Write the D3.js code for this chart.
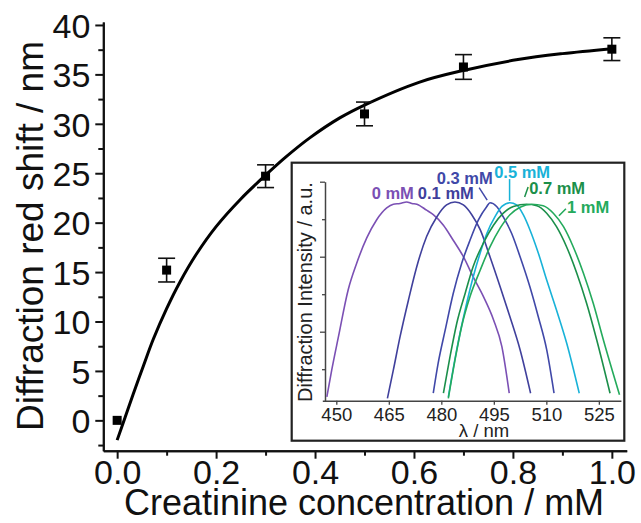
<!DOCTYPE html>
<html>
<head>
<meta charset="utf-8">
<script src="https://cdn.jsdelivr.net/npm/d3@7"></script>
<style>
  html, body { margin: 0; padding: 0; background: #fff; }
  svg { display: block; }
  text { font-family: "Liberation Sans", Arial, Helvetica, sans-serif; }
</style>
</head>
<body>
<svg id="chart" width="641" height="523"></svg>
<script>
// ---------- main chart data ----------
const concentration = [0, 0.1, 0.3, 0.5, 0.7, 1.0];
const redShift      = [0, 15.2, 24.7, 31.0, 35.75, 37.55];
const redShiftErr   = [0, 1.2, 1.15, 1.2, 1.25, 1.15];

const fitConc  = [0, 0.016, 0.032, 0.053, 0.073, 0.1, 0.127, 0.16, 0.2, 0.25, 0.3, 0.34, 0.39, 0.45, 0.5, 0.61, 0.7, 0.81, 0.9, 1.0];
const fitShift = [-2.0, 0.3, 2.6, 5.5, 8.2, 11.3, 14.0, 16.8, 19.6, 22.4, 24.8, 26.6, 28.6, 30.6, 31.9, 34.2, 35.4, 36.5, 37.1, 37.6];

const yTicks      = [0, 5, 10, 15, 20, 25, 30, 35, 40];
const yMinorTicks = [-2.5, 2.5, 7.5, 12.5, 17.5, 22.5, 27.5, 32.5, 37.5];
const xTicks      = [0, 0.2, 0.4, 0.6, 0.8, 1.0];
const xMinorTicks = [0.1, 0.3, 0.5, 0.7, 0.9];

// ---------- inset data ----------
const insetLabels = ["0 mM", "0.1 mM", "0.3 mM", "0.5 mM", "0.7 mM", "1 mM"];
const wl0 = [447.3, 448.7, 450.6, 453.4, 455.8, 458.7, 461.5, 464.4, 466.3, 468.2, 470.1, 471.6, 473.0, 475.8, 477.7, 480.6, 483.4, 486.3, 489.1, 492.0, 494.9, 497.3, 499.4];
const in0 = [0.13, 0.49, 0.93, 1.56, 1.91, 2.25, 2.49, 2.65, 2.70, 2.71, 2.73, 2.71, 2.70, 2.62, 2.56, 2.42, 2.22, 2.00, 1.73, 1.47, 1.16, 0.80, 0.18];
const wl1 = [464.6, 466.3, 468.2, 470.6, 473.0, 475.8, 478.7, 481.5, 483.9, 486.3, 488.7, 491.1, 493.9, 496.8, 499.6, 502.5, 505.5];
const in1 = [0.11, 0.49, 0.93, 1.42, 1.87, 2.27, 2.53, 2.69, 2.73, 2.69, 2.56, 2.36, 2.00, 1.60, 1.20, 0.76, 0.18];
const wl2 = [477.7, 479.1, 481.1, 483.4, 485.8, 488.2, 490.6, 493.0, 493.9, 495.8, 497.7, 500.1, 502.5, 505.3, 507.7, 510.1, 512.2];
const in2 = [0.18, 0.58, 1.02, 1.51, 1.91, 2.22, 2.49, 2.67, 2.72, 2.67, 2.53, 2.31, 2.00, 1.60, 1.20, 0.76, 0.18];
const wl3 = [482.0, 484.4, 486.8, 489.1, 491.1, 493.0, 495.3, 497.3, 499.6, 501.5, 503.4, 505.3, 507.7, 510.1, 512.9, 515.8, 519.4];
const in3 = [0.13, 0.76, 1.29, 1.73, 2.05, 2.31, 2.53, 2.67, 2.72, 2.69, 2.56, 2.36, 2.05, 1.69, 1.29, 0.85, 0.18];
const wl4 = [480.6, 482.5, 484.4, 486.8, 489.1, 492.0, 494.9, 497.7, 500.6, 504.4, 507.3, 510.1, 512.9, 515.8, 518.7, 521.5, 524.4, 528.2];
const in4 = [0.18, 0.67, 1.11, 1.51, 1.87, 2.18, 2.42, 2.58, 2.67, 2.70, 2.68, 2.58, 2.40, 2.13, 1.78, 1.38, 0.89, 0.18];
const wl5 = [482.0, 483.9, 485.8, 488.2, 491.1, 493.9, 496.8, 499.6, 502.5, 505.8, 509.1, 512.0, 514.9, 517.7, 520.6, 523.4, 526.3, 530.9];
const in5 = [0.11, 0.62, 1.07, 1.47, 1.82, 2.13, 2.38, 2.56, 2.66, 2.70, 2.68, 2.58, 2.40, 2.13, 1.78, 1.38, 0.89, 0.16];
const insetXTicks      = [450, 465, 480, 495, 510, 525];
const insetYTicks      = [1, 2, 3];
const insetYMinorTicks = [0.5, 1.5, 2.5];

// ---------- styling / layout ----------
const colors = ["#7b50b4", "#40409c", "#4048a8", "#18b2d8", "#1b8f4a", "#24aa5c"];
// annotation anchors (in inset data units: wavelength, intensity)
const labelAnchors  = [[460.1, 2.77], [473.3, 2.77], [478.7, 2.97], [495.1, 3.05], [505.1, 2.84], [515.9, 2.58]];
const pointerLines  = [null, null, [[490.8, 2.92], [493.1, 2.755]], [[499.5, 3.035], [499.5, 2.745]], [[504.8, 2.93], [503.8, 2.795]], [[515.6, 2.64], [513.6, 2.545]]];

const svg = d3.select("#chart");

const x = d3.scaleLinear().domain([-0.028, 1.03]).range([103.3, 626.7]);
const y = d3.scaleLinear().domain([-3.07, 40.3]).range([450.7, 22]);

// axes
const axisColor = "#111";
function styleAxis(g, fontSize) {
  g.select(".domain").attr("stroke", axisColor).attr("stroke-width", 2);
  g.selectAll(".tick line").attr("stroke", axisColor).attr("stroke-width", 2);
  g.selectAll(".tick text").attr("fill", "#111").attr("font-size", fontSize)
    .attr("font-family", "'Liberation Sans', Arial, sans-serif");
}

const yAxis = svg.append("g").attr("transform", `translate(${x(-0.028)},0)`)
  .call(d3.axisLeft(y).tickValues(yTicks).tickSize(8).tickSizeOuter(0).tickPadding(5).tickFormat(d3.format("d")));
styleAxis(yAxis, 34);
yAxis.selectAll(".tick text").attr("dy", "0.36em");
const yMinor = svg.append("g").attr("transform", `translate(${x(-0.028)},0)`)
  .call(d3.axisLeft(y).tickValues(yMinorTicks).tickSize(5).tickSizeOuter(0).tickFormat(""));
styleAxis(yMinor, 10);

const xAxis = svg.append("g").attr("transform", `translate(0,${y(-3.07)})`)
  .call(d3.axisBottom(x).tickValues(xTicks).tickSize(8).tickSizeOuter(0).tickPadding(1).tickFormat(d3.format(".1f")));
styleAxis(xAxis, 34);
const xMinor = svg.append("g").attr("transform", `translate(0,${y(-3.07)})`)
  .call(d3.axisBottom(x).tickValues(xMinorTicks).tickSize(5).tickSizeOuter(0).tickFormat(""));
styleAxis(xMinor, 10);

// axis titles
svg.append("text")
  .attr("x", 364).attr("y", 515)
  .attr("text-anchor", "middle").attr("font-size", 36).attr("fill", "#111")
  .text("Creatinine concentration / mM");
svg.append("text")
  .attr("transform", "translate(43,236) rotate(-90)")
  .attr("text-anchor", "middle").attr("font-size", 37).attr("fill", "#111")
  .text("Diffraction red shift / nm");

// fit curve
const fitData = fitConc.map((c, i) => [c, fitShift[i]]);
svg.append("path")
  .datum(fitData)
  .attr("fill", "none").attr("stroke", "#000").attr("stroke-width", 3)
  .attr("d", d3.line().x(d => x(d[0])).y(d => y(d[1])).curve(d3.curveCatmullRom.alpha(0.5)));

// error bars & points
const pts = concentration.map((c, i) => ({ c, v: redShift[i], e: redShiftErr[i] }));
const eb = svg.append("g").attr("stroke", "#111").attr("stroke-width", 1.6);
pts.filter(d => d.e > 0).forEach(d => {
  eb.append("line").attr("x1", x(d.c)).attr("x2", x(d.c)).attr("y1", y(d.v - d.e)).attr("y2", y(d.v + d.e));
  [d.v - d.e, d.v + d.e].forEach(v => {
    eb.append("line").attr("x1", x(d.c) - 8.5).attr("x2", x(d.c) + 8.5).attr("y1", y(v)).attr("y2", y(v));
  });
});
svg.append("g").selectAll("rect").data(pts).join("rect")
  .attr("x", d => x(d.c) - 4.5).attr("y", d => y(d.v) - 4.5)
  .attr("width", 9).attr("height", 9).attr("fill", "#000");

// ---------- inset ----------
svg.append("rect")
  .attr("x", 291.7).attr("y", 162.7).attr("width", 332.6).attr("height", 278)
  .attr("fill", "#fff").attr("stroke", "#222").attr("stroke-width", 2.2);

const ix = d3.scaleLinear().domain([446, 531.3]).range([322.3, 620.9]);
const iy = d3.scaleLinear().domain([0.08, 3]).range([400.7, 181.7]);

const insetAxisColor = "#444";
const ixAxis = svg.append("g").attr("transform", `translate(0,${iy(0.08)})`)
  .call(d3.axisBottom(ix).tickValues(insetXTicks).tickSize(4).tickSizeOuter(0).tickPadding(3).tickFormat(d3.format("d")));
ixAxis.select(".domain").attr("stroke", insetAxisColor).attr("stroke-width", 1.5);
ixAxis.selectAll(".tick line").attr("stroke", insetAxisColor).attr("stroke-width", 1.3);
ixAxis.selectAll(".tick text").attr("font-size", 18.5).attr("fill", "#222")
  .attr("font-family", "'Liberation Sans', Arial, sans-serif");

const iyAxis = svg.append("g").attr("transform", `translate(${ix(446) + 2.7},0)`)
  .call(d3.axisLeft(iy).tickValues(insetYTicks).tickSize(5).tickSizeOuter(0).tickFormat(""));
iyAxis.select(".domain").attr("stroke", insetAxisColor).attr("stroke-width", 1.5);
iyAxis.selectAll(".tick line").attr("stroke", insetAxisColor).attr("stroke-width", 1.3);
const iyMinor = svg.append("g").attr("transform", `translate(${ix(446) + 2.7},0)`)
  .call(d3.axisLeft(iy).tickValues(insetYMinorTicks).tickSize(3).tickSizeOuter(0).tickFormat(""));
iyMinor.select(".domain").remove();
iyMinor.selectAll(".tick line").attr("stroke", insetAxisColor).attr("stroke-width", 1.3);

svg.append("text")
  .attr("x", 484).attr("y", 436.5).attr("text-anchor", "middle")
  .attr("font-size", 18.5).attr("fill", "#222").text("λ / nm");
svg.append("text")
  .attr("transform", "translate(312,292) rotate(-90)")
  .attr("text-anchor", "middle").attr("font-size", 20).attr("fill", "#222")
  .text("Diffraction Intensity / a.u.");

const series = [[wl0, in0], [wl1, in1], [wl2, in2], [wl3, in3], [wl4, in4], [wl5, in5]];
const iline = d3.line().x(d => ix(d[0])).y(d => iy(d[1])).curve(d3.curveMonotoneX);
series.forEach(([wl, it], k) => {
  svg.append("path")
    .datum(wl.map((w, i) => [w, it[i]]))
    .attr("fill", "none").attr("stroke", colors[k]).attr("stroke-width", 1.6)
    .attr("d", iline);
});

insetLabels.forEach((lab, k) => {
  svg.append("text")
    .attr("x", ix(labelAnchors[k][0])).attr("y", iy(labelAnchors[k][1]))
    .attr("font-size", 16.5).attr("font-weight", "bold").attr("fill", colors[k])
    .text(lab);
  if (pointerLines[k]) {
    const [p, q] = pointerLines[k];
    svg.append("line")
      .attr("x1", ix(p[0])).attr("y1", iy(p[1])).attr("x2", ix(q[0])).attr("y2", iy(q[1]))
      .attr("stroke", colors[k]).attr("stroke-width", 1.5);
  }
});
</script>
</body>
</html>
